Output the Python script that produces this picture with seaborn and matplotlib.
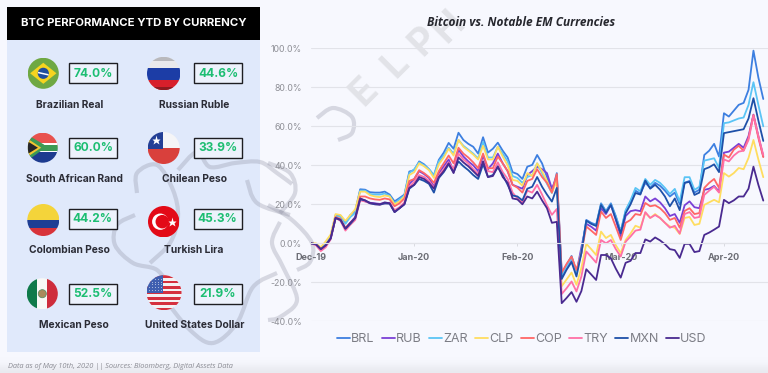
import numpy as np
import pandas as pd
import seaborn as sns
import matplotlib.pyplot as plt
from matplotlib.patches import Rectangle, Circle, Polygon, PathPatch
from matplotlib.path import Path

W, H = 768, 373

# values, % change since Dec-19, one value per trading day
BRL = [0, -0.5, -3, 0, 3.5, 14.5, 14.2, 10.5, 14.5, 16.5, 27.7, 27.5, 26.2, 26, 26, 26.5, 25, 21.5, 23.2, 25,
       36.8, 37.5, 42, 40.5, 38, 34.8, 42.8, 46.5, 51.5, 48.5, 56.7, 53, 51, 49.5, 46, 54.4, 46.5, 48.5, 51.6, 47.5,
       44, 36.5, 35.5, 33, 39.3, 40.2, 45.3, 41, 34, 26.5, 36,
       -15.5, -11, -6.5, -14.5, -5, 12, 10.5, 9.5, 20.5, 16.5, 20.5, 14, 6, 16.5, 21.5,
       27, 25.5, 31, 28.5, 31, 29.5, 27, 24, 26, 20, 31, 32, 26, 27.5, 45.3, 47.5, 51, 44.5,
       66.7, 65, 68, 71, 72, 78.7, 98.8, 85, 74]
RUB = [0, -0.5, -3, -0.5, 2.5, 13, 12, 7.5, 10.5, 13.5, 23, 21.5, 20.8, 20.5, 20.2, 20.5, 20.8, 16.5, 18, 20.5,
       30.5, 33, 37, 35.5, 33.5, 29, 36, 39.5, 43, 37, 48, 44.5, 42, 40, 37, 45, 38, 41, 46, 41,
       37, 30, 29, 28, 35, 37, 39.3, 38, 36, 28, 34,
       -17, -12.5, -8.5, -15, -2, 10, 8.5, 6.5, 18, 15, 19.7, 12, 3.5, 14, 16.5,
       17, 16.5, 24, 21.5, 23, 21, 18, 14, 15, 10.5, 19.5, 21.5, 18.5, 18, 27.4, 28, 29.4, 26.5,
       46.5, 47, 49, 51, 49, 55, 66, 55, 44.6]
ZAR = [0, -0.5, -2.5, 0, 3.5, 14, 13.5, 10, 13.5, 15.5, 27, 27, 25.2, 25, 25, 25.5, 24.3, 20.5, 22.5, 24.5,
       36, 38, 41.5, 40, 38, 35, 42, 45, 49, 46, 53, 50, 48, 46, 43.5, 52, 44, 44, 49.5, 46,
       42, 34.5, 33.5, 31, 34, 35, 41, 36, 30.5, 25.8, 34,
       -16.5, -12, -7.5, -15, -4, 11.5, 10, 9, 20, 16, 20, 13.5, 6, 17, 22,
       28.4, 26.7, 33, 30, 32.5, 31, 28.4, 25.3, 27.9, 21.4, 33.9, 33.9, 27.4, 29, 42.4, 43, 43.6, 38.6,
       61.6, 62, 63, 64, 64.5, 71, 82.6, 71, 60]
CLP = [0, 0, -2, 1, 4.5, 15, 14.5, 11.5, 14.5, 17.5, 26.5, 26.5, 24.7, 24, 23.7, 24.5, 24, 20, 21.5, 24,
       35, 36.5, 41, 39.5, 37.5, 33.5, 40.5, 44, 48.5, 45, 53, 49.5, 47.5, 45.5, 43, 50, 43, 43, 49.5, 44.5,
       40, 32.5, 32, 29.5, 36, 34.5, 41, 37, 32, 26, 32,
       -22, -18.5, -15, -21.3, -12.6, -0.3, -3, -6, 6, 2.7, 4.3, -1, -5, 1.7, 5,
       9, 8, 15.6, 13, 15, 13, 10.5, 8.6, 8, 4.8, 13, 13.5, 9.4, 10, 19.7, 21, 22.3, 21,
       36, 34.2, 36, 38.6, 38, 43.8, 53, 43, 33.9]
COP = [0, -0.5, -3.5, -1, 2.5, 13.5, 12.5, 8, 10.5, 13, 24, 24, 23, 22.5, 22.3, 23, 22.5, 19, 20.5, 23,
       32, 33, 37.5, 36, 34, 31, 37, 41, 45, 41, 49, 46, 44, 41.5, 38.5, 46, 38.5, 38.5, 44.5, 41,
       37, 30, 28.5, 26, 32, 33, 38, 34, 31, 26, 35.5,
       -15, -10.5, -6.8, -13.7, -5, 8.6, 6.5, 4.3, 16.3, 13, 15, 8.5, 1.7, 10.5, 12,
       15, 14.5, 20.7, 19, 19.5, 18, 15.5, 12, 13, 8, 16.6, 18, 15, 15.5, 28.4, 31, 33, 28.4,
       45.5, 44, 48, 50, 47.5, 54, 65.8, 54, 44.2]
TRY = [0, -1, -4, -2, 2, 13, 11.5, 6.5, 9.5, 12, 22, 21.5, 20.5, 20, 19.8, 20.5, 20.5, 17, 18.5, 21,
       29, 31.5, 35, 34, 32, 28.5, 34.5, 38, 41.5, 38, 46, 43, 41, 38, 35.5, 42, 37, 36.5, 41.5, 36.5,
       33, 26, 23, 21, 27, 26, 30, 25, 19.5, 14.6, 17.6,
       -26, -23, -19.6, -24.7, -17, -4.2, -7, -9.9, 1.7, 0, 1.7, -3, -6.8, 0.8, 3.5,
       6.5, 7, 16, 13, 14.5, 13, 10.5, 8, 9, 5, 15, 16, 13, 13.5, 24.8, 27, 29, 26,
       43, 42, 45, 47, 47.5, 53, 65.5, 55, 45.3]
MXN = [0, -0.5, -3, -1, 2.5, 13, 12, 7.5, 10, 13, 22.5, 22, 20.5, 20, 19.8, 20.5, 20.3, 16, 18, 20,
       28, 30, 33, 32, 30.5, 26, 33.5, 36.5, 40.5, 36.5, 42, 39.5, 37.5, 35, 33, 40.5, 34, 35, 39, 35,
       30, 24.5, 24, 22, 28, 29, 34, 29, 25, 21.4, 28.4,
       -18.3, -13.5, -9.6, -17, -5, 11.6, 10, 8.9, 19.7, 15.7, 19.7, 12.5, 5.2, 15.4, 20,
       25.8, 25, 32.2, 28, 30, 27.5, 24, 19, 23, 17, 31, 31.5, 24.8, 26, 38, 39, 40.5, 36.5,
       56.5, 57, 57.5, 58, 58.5, 64, 74.4, 63, 52.5]
USD = [0, -0.5, -3, -1, 2.5, 13, 12, 7.5, 10.5, 13, 23, 22, 20.7, 20.3, 20, 21, 20.5, 16, 18, 20,
       28.5, 30, 34, 33, 31, 28, 34, 37, 41, 36, 44, 41.5, 39.5, 37, 34.5, 42, 34, 34.5, 39.5, 34,
       31, 23, 22.5, 20, 24, 23, 26.5, 22, 18, 10.5, 11,
       -30.7, -28, -25, -30, -24.5, -13.3, -16, -18.8, -6, -6, -7.7, -13, -17.6, -10, -9,
       -5, -5, 2, 0.9, 3, 1.5, -0.5, -3, -3.5, -7.5, -0.3, -0.3, -4.5, -4, 4.3, 5.5, 7, 8.6,
       22.3, 20.6, 22, 24, 24, 28, 39.3, 30, 21.9]

series_names = ['BRL', 'RUB', 'ZAR', 'CLP', 'COP', 'TRY', 'MXN', 'USD']
series_colors = ['#3D7FE0', '#7A3FD6', '#5AC4F5', '#FFDD60', '#FF6666', '#FF70A6', '#1E50A8', '#4A2A90']
month_ticks = [0, 21, 42, 63, 84]
month_labels = ['Dec-19', 'Jan-20', 'Feb-20', 'Mar-20', 'Apr-20']
y_ticks = [-40, -20, 0, 20, 40, 60, 80, 100]

currency_names = ['Brazilian Real', 'Russian Ruble', 'South African Rand', 'Chilean Peso',
                  'Colombian Peso', 'Turkish Lira', 'Mexican Peso', 'United States Dollar']
currency_perf = ['74.0%', '44.6%', '60.0%', '33.9%', '44.2%', '45.3%', '52.5%', '21.9%']

sns.set_theme(style='whitegrid')
plt.rcParams['font.family'] = ['Inter', 'DejaVu Sans']

fig = plt.figure(figsize=(W / 100, H / 100), dpi=100, facecolor='#F7F8FE')

# full-figure axes working in image pixels, for everything that is not the chart
bg = fig.add_axes([0, 0, 1, 1])
bg.set_xlim(0, W)
bg.set_ylim(H, 0)
bg.axis('off')
bg.set_aspect('auto')

fade = np.array([[0.0], [0.0], [0.35], [1.0]])
bg.imshow(fade, extent=(0, W, H, 352), cmap=sns.blend_palette(['#F7F8FE', '#E9EAF0'], as_cmap=True),
          aspect='auto', interpolation='bicubic', zorder=0, vmin=0, vmax=1)
bg.set_xlim(0, W)
bg.set_ylim(H, 0)

bg.add_patch(Rectangle((7, 40), 253, 312, fc='#E0E9FB', ec='none', zorder=1))
bg.add_patch(Rectangle((7, 7), 253, 33, fc='black', ec='none', zorder=2))
bg.text(133.5, 23.5, 'BTC PERFORMANCE YTD BY CURRENCY', color='white', fontsize=8.2, fontweight='bold',
        ha='center', va='center', zorder=3)


def smooth_stroke(points, lw=3.0, color='#8A8DA0', z=1.5):
    """catmull-rom through the given pixel points, only for the watermark"""
    pts = np.array(points, dtype=float)
    pad = np.vstack([pts[0], pts, pts[-1]])
    verts = [pts[0]]
    codes = [Path.MOVETO]
    for k in range(1, len(pad) - 2):
        p0, p1, p2, p3 = pad[k - 1], pad[k], pad[k + 1], pad[k + 2]
        verts += [p1 + (p2 - p0) / 6, p2 - (p3 - p1) / 6, p2]
        codes += [Path.CURVE4] * 3
    bg.add_patch(PathPatch(Path(verts, codes), fc='none', ec=color, lw=lw, alpha=0.3, capstyle='butt', zorder=z))


# --- watermark ---
wm_strokes = [
    [(137, 193), (137, 173), (157, 165), (173, 190), (178, 217), (170, 243), (150, 263)],
    [(135, 215), (117, 225), (115, 245), (133, 263), (157, 270), (170, 290), (163, 297)],
    [(163, 297), (190, 330), (213, 343), (237, 323), (253, 287), (277, 273)],
    [(178, 170), (197, 152), (210, 167), (235, 163), (260, 162), (277, 173), (292, 184)],
    [(247, 180), (257, 203), (290, 215)],
    [(280, 222), (272, 243), (283, 267), (297, 300), (280, 317), (268, 320)],
    [(268, 205), (292, 220), (312, 243), (310, 262), (297, 270)],
    [(268, 163), (290, 173), (295, 193), (280, 213)],
    [(317, 118), (333, 108), (352, 117), (352, 133), (338, 140)],
]
for stroke in wm_strokes:
    smooth_stroke(stroke)
for letter, lx, ly in zip('ELPH', [365, 396, 424, 449], [92, 64, 41, 27]):
    bg.text(lx, ly, letter, color='#E2E3E8', fontsize=27, fontweight='bold', rotation=45,
            ha='center', va='center', rotation_mode='anchor', zorder=1.5)


# --- flags ---
def flag_disc(cx, cy, r):
    return Circle((cx, cy), r, transform=bg.transData)


def band(cx, cy, r, x0, y0, x1, y1, color, z=4):
    rect = Rectangle((cx + x0 * r, cy + y0 * r), (x1 - x0) * r, (y1 - y0) * r, fc=color, ec='none', zorder=z)
    bg.add_patch(rect)
    rect.set_clip_path(flag_disc(cx, cy, r))
    return rect


def poly(cx, cy, r, pts, color, z=5):
    p = Polygon([(cx + a * r, cy + b * r) for a, b in pts], closed=True, fc=color, ec='none', zorder=z)
    bg.add_patch(p)
    p.set_clip_path(flag_disc(cx, cy, r))


def brazil(cx, cy, r):
    band(cx, cy, r, -1, -1, 1, 1, '#6FA843')
    poly(cx, cy, r, [(-0.85, 0), (0, -0.68), (0.85, 0), (0, 0.68)], '#F6D41F')
    bg.add_patch(Circle((cx, cy), 0.36 * r, fc='#1F4E9E', ec='none', zorder=6))
    poly(cx, cy, r, [(-0.34, -0.1), (0.34, 0.05), (0.34, 0.15), (-0.34, 0.0)], 'white', z=7)


def russia(cx, cy, r):
    band(cx, cy, r, -1, -1, 1, -0.3, '#E9E9EC')
    band(cx, cy, r, -1, -0.98, 1, -0.72, '#B9B9BD')
    band(cx, cy, r, -1, -0.32, 1, 0.38, '#1C3DA6')
    band(cx, cy, r, -1, 0.36, 1, 1, '#D71F2B')
    band(cx, cy, r, -1, 0.78, 1, 1, '#8E1A20', z=5)


def south_africa(cx, cy, r):
    band(cx, cy, r, -1, -1, 1, 0, '#E8524F')
    band(cx, cy, r, -1, 0, 1, 1, '#1D3B8F')
    band(cx, cy, r, -1, -0.3, 1, 0.3, '#FFFFFF')
    band(cx, cy, r, -1, -0.2, 1, 0.2, '#3D9A55', z=5)
    poly(cx, cy, r, [(-1, -0.85), (0.1, -0.2), (-0.1, 0.2), (-1, 0.85)], '#3D9A55', z=5)
    poly(cx, cy, r, [(-1, -0.6), (-0.1, 0), (-1, 0.6)], '#F2C531', z=6)
    poly(cx, cy, r, [(-1, -0.42), (-0.32, 0), (-1, 0.42)], '#26262A', z=7)


def chile(cx, cy, r):
    band(cx, cy, r, -1, -1, 1, 0.05, '#F5F5F7')
    band(cx, cy, r, -1, 0.02, 1, 1, '#D9403C')
    band(cx, cy, r, -1, -1, -0.05, 0.05, '#233F96', z=5)
    bg.plot([cx - 0.5 * r], [cy - 0.47 * r], marker='*', ms=6.5, mfc='white', mec='none', zorder=7)


def colombia(cx, cy, r):
    band(cx, cy, r, -1, -1, 1, 0.02, '#F4D43A')
    band(cx, cy, r, -1, 0, 1, 0.52, '#1F3E94')
    band(cx, cy, r, -1, 0.5, 1, 1, '#D8333A')


def turkey(cx, cy, r):
    band(cx, cy, r, -1, -1, 1, 1, '#E30A17')
    bg.add_patch(Circle((cx - 0.22 * r, cy), 0.52 * r, fc='white', ec='none', zorder=6))
    bg.add_patch(Circle((cx - 0.09 * r, cy), 0.43 * r, fc='#E30A17', ec='none', zorder=7))
    bg.plot([cx + 0.5 * r], [cy], marker='*', ms=6.5, mfc='white', mec='none', zorder=8)


def mexico(cx, cy, r):
    band(cx, cy, r, -1, -1, -0.33, 1, '#0F7A4A')
    band(cx, cy, r, -0.35, -1, 0.35, 1, '#F8F8F6')
    band(cx, cy, r, 0.33, -1, 1, 1, '#CE2C3C')
    bg.add_patch(Circle((cx, cy), 0.26 * r, fc='#A98A5C', ec='#5F8D63', lw=0.6, zorder=6))


def usa(cx, cy, r):
    band(cx, cy, r, -1, -1, 1, 1, '#F4F1F2')
    for k in np.arange(-1, 1, 0.31):
        band(cx, cy, r, -1, k, 1, k + 0.155, '#D5303E', z=5)
    band(cx, cy, r, -1, -1, -0.05, 0.0, '#3F5FB0', z=6)
    for a in np.arange(-0.85, -0.1, 0.17):
        for b in np.arange(-0.8, -0.05, 0.16):
            if a * a + b * b < 0.92:
                bg.plot([cx + a * r], [cy + b * r], marker='.', ms=1.2, mfc='white', mec='none', zorder=7)


flags = [(brazil, 43.3, 73.3, 15.5), (russia, 163.7, 73.5, 16.7),
         (south_africa, 42.7, 147.7, 15), (chile, 163.7, 148, 16),
         (colombia, 43.3, 220, 16), (turkey, 163.7, 221.7, 15.7),
         (mexico, 42.3, 293.7, 15.5), (usa, 164, 292.7, 17.5)]
for draw_flag, fx, fy, fr in flags:
    draw_flag(fx, fy, fr)

# --- currency cards ---
box_x = [69.3, 194.3, 69.3, 194.3, 68.7, 193.7, 68.7, 193.7]
box_y = [63.3, 63.3, 137.7, 137.7, 209, 209, 283.7, 283.7]
name_x = [69.5, 194.3, 74.3, 195, 69, 193.7, 74, 194.3]
name_y = [104.7, 104.7, 179.3, 179.3, 250.3, 250.3, 325.3, 324.7]
for name, perf, bx, by, nx, ny in zip(currency_names, currency_perf, box_x, box_y, name_x, name_y):
    bg.add_patch(Rectangle((bx, by), 48, 20, fc='#EDF2FC', ec='#1E1E22', lw=1.0, zorder=4))
    bg.text(bx + 24, by + 10.3, perf, color='#1DBE72', fontsize=8.6, fontweight='bold',
            ha='center', va='center', zorder=5)
    bg.text(nx, ny, name, color='#2B2C36', fontsize=7.4, fontweight='bold', ha='center', va='center', zorder=5)

bg.text(8, 366, 'Data as of May 10th, 2020 || Sources: Bloomberg, Digital Assets Data', color='#8B8C94',
        fontsize=5.3, style='italic', family='Open Sans', ha='left', va='center', zorder=5)

# --- line chart ---
left, right, top, bottom = 311, 768, 48.3, 321.3
ax = fig.add_axes([left / W, 1 - bottom / H, (right - left) / W, (bottom - top) / H])
ax.patch.set_alpha(0)

prices = pd.DataFrame(dict(zip(series_names, [BRL, RUB, ZAR, CLP, COP, TRY, MXN, USD])))
prices['day'] = range(len(prices))
long_df = prices.melt(id_vars='day', var_name='currency', value_name='ytd')

sns.lineplot(data=long_df, x='day', y='ytd', hue='currency', hue_order=series_names,
             palette=dict(zip(series_names, series_colors)), estimator=None, linewidth=1.3, ax=ax)

# set_position resets the ticks, so it goes before the tick styling
for side in ['top', 'right', 'left']:
    ax.spines[side].set_visible(False)
ax.spines['bottom'].set_position(('data', 0))
ax.spines['bottom'].set_color('#E2E3E9')
ax.spines['bottom'].set_linewidth(0.8)

ax.set_xlim(0, 92.96)
ax.set_ylim(-40, 100)
ax.set_xlabel('')
ax.set_ylabel('')
ax.set_xticks(month_ticks)
ax.set_xticklabels(month_labels, fontsize=6.5, fontweight='bold', color='#6C6D75')
ax.set_yticks(y_ticks)
ax.set_yticklabels([f'{v:.1f}%' for v in y_ticks], fontsize=6.3, color='#8E8F96')
ax.grid(axis='x', visible=False)
ax.grid(axis='y', color='#E2E3E9', linewidth=0.8)
ax.tick_params(axis='x', length=1.8, width=0.6, color='#D5D6DC', pad=5.5, bottom=True)
ax.tick_params(axis='y', length=0, pad=6.5)
ax.set_axisbelow(True)

sns.move_legend(ax, 'center', bbox_to_anchor=(522 / W, 1 - 339 / H), bbox_transform=fig.transFigure,
                ncol=8, frameon=False, title=None, fontsize=9, handlelength=1.0, handletextpad=0.12,
                columnspacing=0.6, labelcolor='#7C7D85')

bg.text(521, 23, 'Bitcoin vs. Notable EM Currencies', color='#26272E', fontsize=8.6, fontweight='bold',
        style='italic', family='Open Sans', ha='center', va='center', zorder=5)

fig.savefig('out.png', dpi=100, facecolor=fig.get_facecolor())
